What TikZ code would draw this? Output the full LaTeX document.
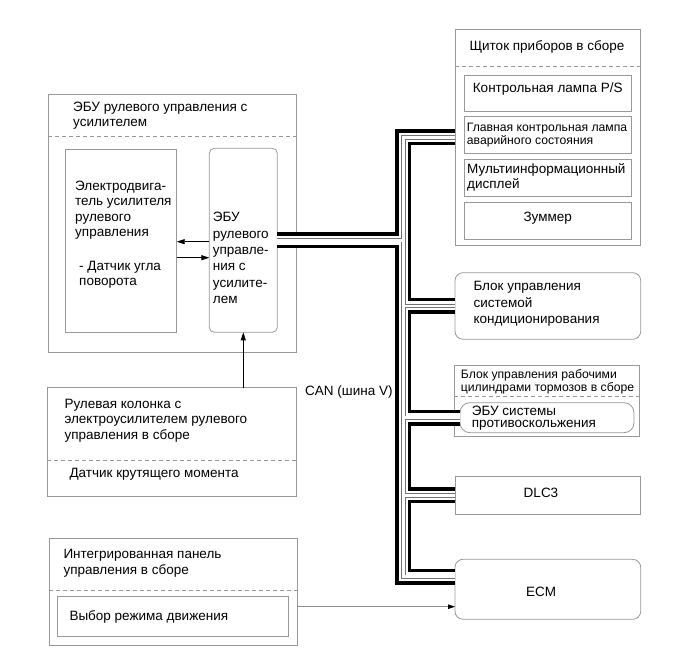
\documentclass[tikz,border=0pt]{standalone}
\usepackage{fontspec}
\setmainfont{Liberation Sans}
\usetikzlibrary{arrows.meta,calc}
\begin{document}
\begin{tikzpicture}[x=1pt,y=-1pt,
  box/.style={draw=black!40, line width=0.8pt, inner sep=0pt, outer sep=0pt, anchor=north west},
  dsh/.style={draw=black!40, line width=0.8pt, dash pattern=on 4pt off 3pt},
  txt/.style={inner sep=0pt, anchor=west, align=left, font=\fontsize{13.5}{15.5}\selectfont},
  small/.style={inner sep=0pt, anchor=west, align=left, font=\fontsize{12.2}{13.3}\selectfont},
  arr/.style={line width=0.8pt, -{Triangle[length=8pt,width=5pt]}},
]
\useasboundingbox[fill=white] (0,0) rectangle (691,660);

% ---- boxes ----
\node[box, minimum width=248.7pt, minimum height=258.7pt] (eps) at (48,94) {};
\node[box, minimum width=111.7pt, minimum height=183.3pt] (motor) at (65,149) {};
\node[box, rounded corners=5pt, minimum width=68pt, minimum height=184pt] (ecu) at (209.3,148.3) {};
\node[box, minimum width=249.4pt, minimum height=108.3pt] (column) at (47.3,387.7) {};
\node[box, minimum width=248pt, minimum height=106.7pt] (integ) at (49.3,538.3) {};
\node[box, minimum width=230.6pt, minimum height=40pt] (mode) at (57.7,596.7) {};
\node[box, minimum width=185.7pt, minimum height=216.4pt] (cluster) at (455,29.3) {};
\node[box, minimum width=166.7pt, minimum height=36pt] (lamp1) at (464.3,75) {};
\node[box, minimum width=166.7pt, minimum height=36.6pt] (lamp2) at (464.3,116.7) {};
\node[box, minimum width=166.7pt, minimum height=37.4pt] (disp) at (464.3,159.3) {};
\node[box, minimum width=166.7pt, minimum height=36.7pt] (buzz) at (464.3,202.3) {};
\node[box, rounded corners=8pt, minimum width=185.7pt, minimum height=66.6pt] (ac) at (455,272.7) {};
\node[box, minimum width=185.3pt, minimum height=71pt] (brake) at (454,365.7) {};
\node[box, rounded corners=10pt, minimum width=174pt, minimum height=30pt] (abs) at (460,402.7) {};
\node[box, minimum width=185.7pt, minimum height=37.3pt] (dlc) at (455,476.7) {};
\node[box, rounded corners=8pt, minimum width=185.7pt, minimum height=60pt] (ecm) at (455,559.3) {};

% ---- dashed separators ----
\draw[dsh] (eps.west |- 0,136.7) -- (eps.east |- 0,136.7);
\draw[dsh] (column.west |- 0,460) -- (column.east |- 0,460);
\draw[dsh] (integ.west |- 0,590) -- (integ.east |- 0,590);
\draw[dsh] (cluster.west |- 0,66.7) -- (cluster.east |- 0,66.7);
\draw[dsh] (brake.west |- 0,396.7) -- (brake.east |- 0,396.7);

% ---- texts ----
\node[txt] (t-eps) at (73,115.5) {ЭБУ рулевого управления с\\усилителем};
\node[txt] (t-motor) at (75,210) {Электродвига-\\тель усилителя\\рулевого\\управления};
\node[txt] (t-angle) at (79,274.7) {- Датчик угла\\поворота};
\node[txt, font=\fontsize{13.5}{16.3}\selectfont] (t-ecu) at (212.7,258) {ЭБУ\\рулевого\\управле-\\ния с\\усилите-\\лем};
\node[txt] (t-col) at (64.3,420.6) {Рулевая колонка с\\электроусилителем рулевого\\управления в сборе};
\node[txt] (t-torque) at (69.3,474.3) {Датчик крутящего момента};
\node[txt] (t-integ) at (63.3,563.2) {Интегрированная панель\\управления в сборе};
\node[txt] (t-mode) at (69.3,616.7) {Выбор режима движения};
\node[txt] (t-can) at (305,391.7) {CAN (шина V)};
\node[txt] (t-cluster) at (469.3,46.7) {Щиток приборов в сборе};
\node[txt, anchor=center] (t-lamp1) at (547.7,89.3) {Контрольная лампа P/S};
\node[small] (t-lamp2) at (466.7,135) {Главная контрольная лампа\\аварийного состояния};
\node[txt, font=\fontsize{13.5}{15}\selectfont] (t-disp) at (467,177.5) {Мультиинформационный\\дисплей};
\node[txt, anchor=center] (t-buzz) at (547.7,218.3) {Зуммер};
\node[txt, font=\fontsize{13.5}{16.3}\selectfont] (t-ac) at (473.3,304) {Блок управления\\системой\\кондиционирования};
\node[small] (t-brake) at (460.7,381.7) {Блок управления рабочими\\цилиндрами тормозов в сборе};
\node[txt, font=\fontsize{13.5}{12}\selectfont] (t-abs) at (471.7,418.5) {ЭБУ системы\\противоскольжения};
\node[txt, anchor=center] (t-dlc) at (541,493.3) {DLC3};
\node[txt, anchor=center] (t-ecm) at (541,591.7) {ECM};

% ---- arrows ----
\draw[arr] (ecu.west |- 0,241.7) -- (motor.east |- 0,241.7);
\draw[arr] (motor.east |- 0,257.7) -- (ecu.west |- 0,257.7);
\draw[arr] (ecu.south |- column.north) -- (ecu.south);
\draw[line width=0.8pt, draw=black!45, -{Triangle[length=7pt,width=4.5pt,color=black]}] (integ.east |- 0,606.7) -- (ecm.west |- 0,606.7);

% ---- CAN bus ----
\coordinate (trunk) at (403.3,0);
\coordinate (ecmbus) at (455,576.7);
\draw[line width=16pt, black,
  postaction={draw=white, line width=9pt},
  postaction={draw=black!55, line width=4.4pt},
  postaction={draw=white, line width=2.8pt}]
  (cluster.west) -| (trunk |- ecmbus) -- (ecmbus)
  (ecu.east) -- (trunk |- ecu.east)
  (trunk |- ac.west) -- (ac.west)
  (trunk |- abs.west) -- (abs.west)
  (trunk |- dlc.west) -- (dlc.west);
\end{tikzpicture}
\end{document}
